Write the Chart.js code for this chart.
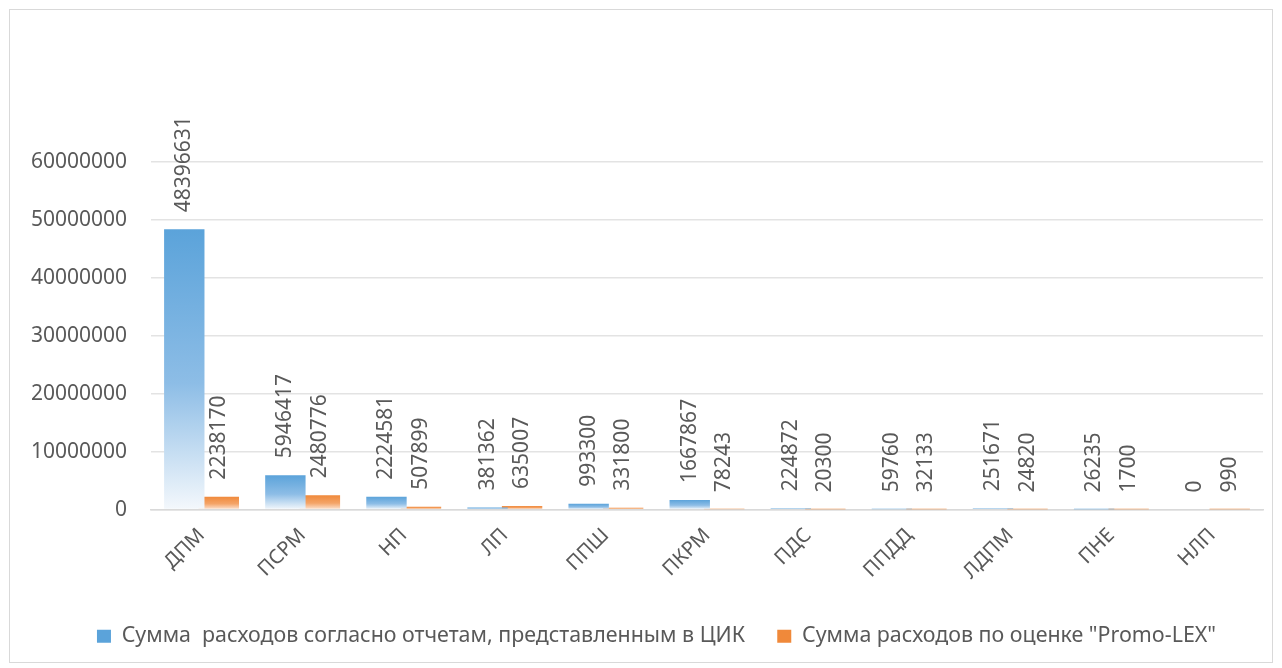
<!DOCTYPE html>
<html>
<head>
<meta charset="utf-8">
<script src="https://cdn.jsdelivr.net/npm/chart.js@4"></script>
<style>
    body { margin: 0; background: #fff; }
    #frame {
        position: absolute;
        left: 9px;
        top: 9px;
        width: 1264px;
        height: 654px;
        border: 1px solid #d9d9d9;
        box-sizing: border-box;
    }
</style>
</head>
<body>
<div id="frame"><canvas id="spending-chart" width="1262" height="652"></canvas></div>
<script>
const parties = ['ДПМ', 'ПСРМ', 'НП', 'ЛП', 'ППШ', 'ПКРМ', 'ПДС', 'ППДД', 'ЛДПМ', 'ПНЕ', 'НЛП'];
const reportedSpending = [48396631, 5946417, 2224581, 381362, 993300, 1667867, 224872, 59760, 251671, 26235, 0];
const promoLexSpending = [2238170, 2480776, 507899, 635007, 331800, 78243, 20300, 32133, 24820, 1700, 990];
const seriesNames = [
    'Сумма  расходов согласно отчетам, представленным в ЦИК',
    'Сумма расходов по оценке "Promo-LEX"'
];
const yTicks = [0, 10000000, 20000000, 30000000, 40000000, 50000000, 60000000];

const FONT = '"Noto Sans", "Liberation Sans", sans-serif';
const TEXT_COLOR = '#595959';
const BLUE = ['#5ba3da', '#8dbde6', '#f4f8fc'];
const ORANGE = ['#f0893a', '#f4a468', '#fde6d6'];

function barGradient(stops) {
    return function (context) {
        if (context.type !== 'data') {
            return stops[0];
        }
        const chart = context.chart;
        const yScale = chart.scales.y;
        if (!yScale) {
            return stops[0];
        }
        const yTop = yScale.getPixelForValue(context.raw);
        const yBase = yScale.getPixelForValue(0);
        if (!isFinite(yTop) || !isFinite(yBase) || yBase - yTop < 1) {
            return stops[0];
        }
        const g = chart.ctx.createLinearGradient(0, yTop, 0, yBase);
        g.addColorStop(0, stops[0]);
        g.addColorStop(0.55, stops[1]);
        g.addColorStop(1, stops[2]);
        return g;
    };
}

// Excel style labels at the outer end of each bar, turned to read upwards
const barValueLabels = {
    id: 'barValueLabels',
    afterLayout(chart) {
        // legend in the reference sits a little right of the canvas centre
        chart.legend.left += 20;
        chart.legend.right += 20;
    },
    afterDatasetsDraw(chart) {
        const ctx = chart.ctx;
        ctx.save();
        ctx.font = '21px ' + FONT;
        ctx.fillStyle = TEXT_COLOR;
        ctx.textAlign = 'left';
        ctx.textBaseline = 'middle';
        chart.data.datasets.forEach((dataset, i) => {
            const meta = chart.getDatasetMeta(i);
            meta.data.forEach((bar, j) => {
                ctx.save();
                ctx.translate(bar.x, bar.y - 17);
                ctx.rotate(-Math.PI / 2);
                ctx.fillText(String(dataset.data[j]), 0, 0);
                ctx.restore();
            });
        });
        ctx.restore();
    }
};

const ctx = document.getElementById('spending-chart').getContext('2d');

new Chart(ctx, {
    type: 'bar',
    data: {
        labels: parties,
        datasets: [
            {
                label: seriesNames[0],
                data: reportedSpending,
                backgroundColor: barGradient(BLUE),
                categoryPercentage: 0.683,
                barPercentage: 1.17
            },
            {
                label: seriesNames[1],
                data: promoLexSpending,
                backgroundColor: barGradient(ORANGE),
                categoryPercentage: 0.683,
                barPercentage: 1.17
            }
        ]
    },
    options: {
        responsive: false,
        animation: false,
        layout: {
            padding: { top: 152, right: 9, left: 0, bottom: 5 }
        },
        scales: {
            x: {
                grid: { display: false },
                border: { display: true, color: '#d9d9d9', width: 1.5 },
                ticks: {
                    color: TEXT_COLOR,
                    font: { family: FONT, size: 20 },
                    minRotation: 45,
                    maxRotation: 45,
                    padding: 6
                },
                afterFit: (scale) => { scale.height = 106; }
            },
            y: {
                min: 0,
                max: 60000000,
                afterBuildTicks: (scale) => {
                    scale.ticks = yTicks.map(v => ({ value: v }));
                },
                grid: { color: '#e3e3e3', lineWidth: 1.5, drawTicks: false },
                border: { display: false },
                ticks: {
                    color: TEXT_COLOR,
                    font: { family: FONT, size: 21 },
                    padding: 24,
                    callback: (value) => String(value)
                },
                afterFit: (scale) => { scale.width = 141; }
            }
        },
        plugins: {
            legend: {
                position: 'bottom',
                labels: {
                    color: TEXT_COLOR,
                    font: { family: FONT, size: 21.4 },
                    boxWidth: 14,
                    boxHeight: 13,
                    padding: 10,
                    // trailing spaces widen the gap between the two entries
                    generateLabels: (chart) => chart.data.datasets.map((ds, i) => ({
                        text: i === 0 ? ds.label + '    ' : ds.label,
                        fillStyle: [BLUE, ORANGE][i][0],
                        strokeStyle: [BLUE, ORANGE][i][0],
                        lineWidth: 0,
                        fontColor: TEXT_COLOR,
                        hidden: false,
                        datasetIndex: i
                    }))
                }
            },
            tooltip: { enabled: false }
        }
    },
    plugins: [barValueLabels]
});
</script>
</body>
</html>
